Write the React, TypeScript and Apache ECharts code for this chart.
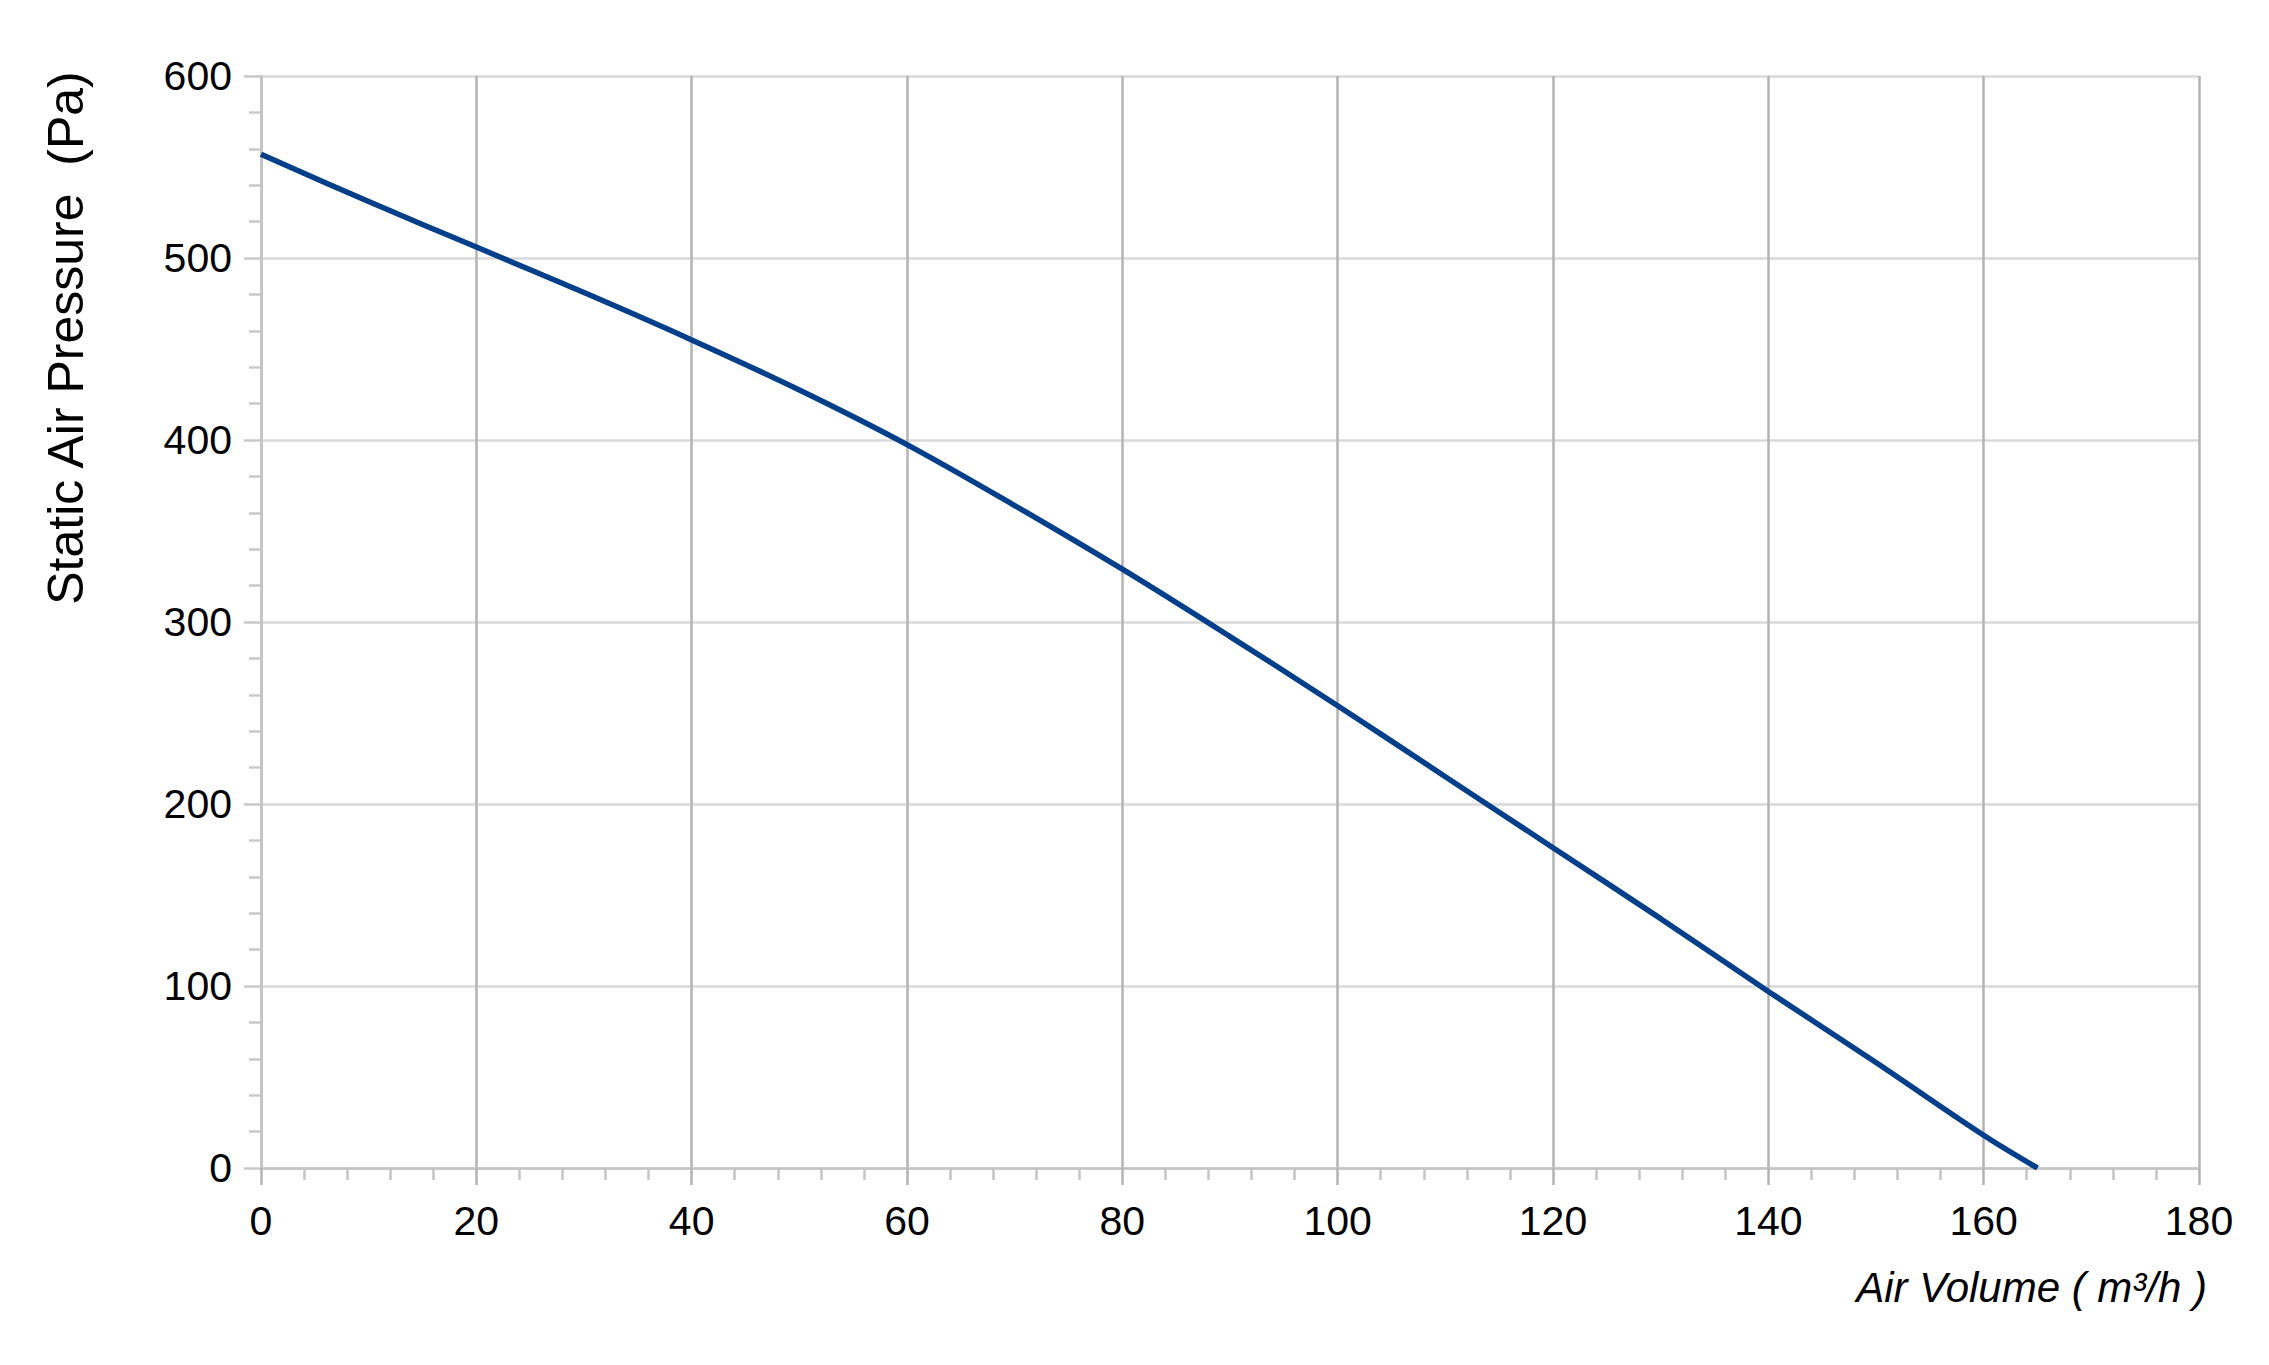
import React, { useEffect, useRef } from "react";
import * as echarts from "echarts";

const airVolume = [0, 10, 20, 30, 40, 50, 60, 70, 80, 90, 100, 110, 120, 130, 140, 150, 160, 165];
const staticPressure = [557, 531, 506, 481, 455, 427.5, 397.5, 364, 329, 292, 254, 215, 176, 137, 97, 58, 18, 0];

const xTitle = "Air Volume ( m³/h )";
const yTitle = "Static Air Pressure  (Pa)";

const FONT = "'Liberation Sans', Arial, sans-serif";

export default function App() {
  const ref = useRef<HTMLDivElement>(null);
  useEffect(() => {
    if (!ref.current) return;
    const chart = echarts.init(ref.current, null, { renderer: "svg" });
    const data = airVolume.map((x, i) => [x, staticPressure[i]]);
    chart.setOption({
      animation: false,
      backgroundColor: "#ffffff",
      grid: { left: 261, top: 76, width: 1938, height: 1092, containLabel: false },
      xAxis: {
        type: "value",
        min: 0,
        max: 180,
        interval: 20,
        axisLine: { show: true, lineStyle: { color: "#c4c4c4", width: 2.5 } },
        axisTick: { show: true, inside: false, length: 17, lineStyle: { color: "#b3b3b3", width: 2.5 } },
        minorTick: { show: true, splitNumber: 5, length: 12, lineStyle: { color: "#c4c4c4", width: 2.5 } },
        splitLine: { show: true, lineStyle: { color: "#b3b3b3", width: 2.5 } },
        axisLabel: { color: "#000", fontSize: 41, fontFamily: FONT, margin: 32 },
      },
      yAxis: {
        type: "value",
        min: 0,
        max: 600,
        interval: 100,
        axisLine: { show: true, lineStyle: { color: "#c4c4c4", width: 2.5 } },
        axisTick: { show: true, inside: false, length: 17, lineStyle: { color: "#c8c8c8", width: 2.5 } },
        minorTick: { show: true, splitNumber: 5, length: 12, lineStyle: { color: "#c8c8c8", width: 2.5 } },
        splitLine: { show: true, lineStyle: { color: "#d9d9d9", width: 2.5 } },
        axisLabel: { color: "#000", fontSize: 41, fontFamily: FONT, margin: 29 },
      },
      series: [
        {
          type: "line",
          data,
          smooth: 0.35,
          symbol: "none",
          lineStyle: { color: "#023f8a", width: 5.5 },
        },
      ],
      graphic: [
        {
          type: "text",
          x: 66,
          y: 338,
          rotation: Math.PI / 2,
          style: {
            text: yTitle,
            fontSize: 50,
            fontFamily: FONT,
            fill: "#000",
            align: "center",
            verticalAlign: "middle",
          },
        },
        {
          type: "text",
          x: 2207,
          y: 1287,
          style: {
            text: xTitle,
            fontSize: 42,
            fontStyle: "italic",
            fontFamily: FONT,
            fill: "#000",
            align: "right",
            verticalAlign: "middle",
          },
        },
      ],
    });
    return () => chart.dispose();
  }, []);
  return (
    <div
      ref={ref}
      style={{ position: "fixed", left: 0, top: 0, width: 2269, height: 1365, background: "#fff" }}
    />
  );
}
